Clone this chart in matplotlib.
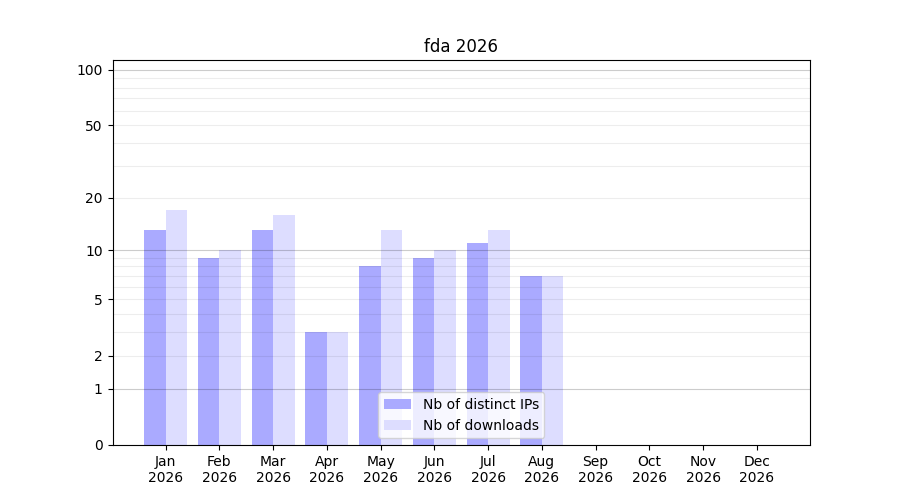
import numpy as np
import matplotlib
matplotlib.use("Agg")
import matplotlib.pyplot as plt

# data
months = ["Jan", "Feb", "Mar", "Apr", "May", "Jun", "Jul", "Aug", "Sep", "Oct", "Nov", "Dec"]
year = "2026"
distinct_ips = [13, 9, 13, 3, 8, 9, 11, 7, 0, 0, 0, 0]
downloads = [17, 10, 16, 3, 13, 10, 13, 7, 0, 0, 0, 0]
ytick_vals = [0, 1, 2, 5, 10, 20, 50, 100]
minor_vals = [3, 4, 6, 7, 8, 9, 30, 40, 60, 70, 80, 90]

fig, ax = plt.subplots(figsize=(9, 5), dpi=100)

# log(1+x) scale so 0 can be shown
ax.set_yscale("function", functions=(lambda v: np.log10(1 + np.clip(v, 0, None)),
                                     lambda v: 10 ** v - 1))

x = np.arange(len(months))
w = 0.4
ax.bar(x - w / 2, distinct_ips, width=w, color="#aaaaff", label="Nb of distinct IPs")
ax.bar(x + w / 2, downloads, width=w, color="#ddddff", label="Nb of downloads")

ax.set_xticks(x)
ax.set_xticklabels([m + "\n" + year for m in months])

ax.set_ylim(0, 113)
ax.set_yticks(ytick_vals)
ax.set_yticklabels([str(v) for v in ytick_vals])
ax.set_yticks(minor_vals, minor=True)
ax.tick_params(axis="y", which="minor", length=0)

ax.yaxis.grid(True, which="major", color="black", alpha=0.07, linewidth=0.8)
ax.yaxis.grid(True, which="minor", color="black", alpha=0.07, linewidth=0.8)
# darker lines at the decades
for tick in ax.yaxis.get_major_ticks():
    if tick.get_loc() in (1, 10, 100):
        tick.gridline.set_alpha(0.2)

ax.set_title("fda " + year)
ax.legend(loc="lower center")

fig.savefig("out.png")
